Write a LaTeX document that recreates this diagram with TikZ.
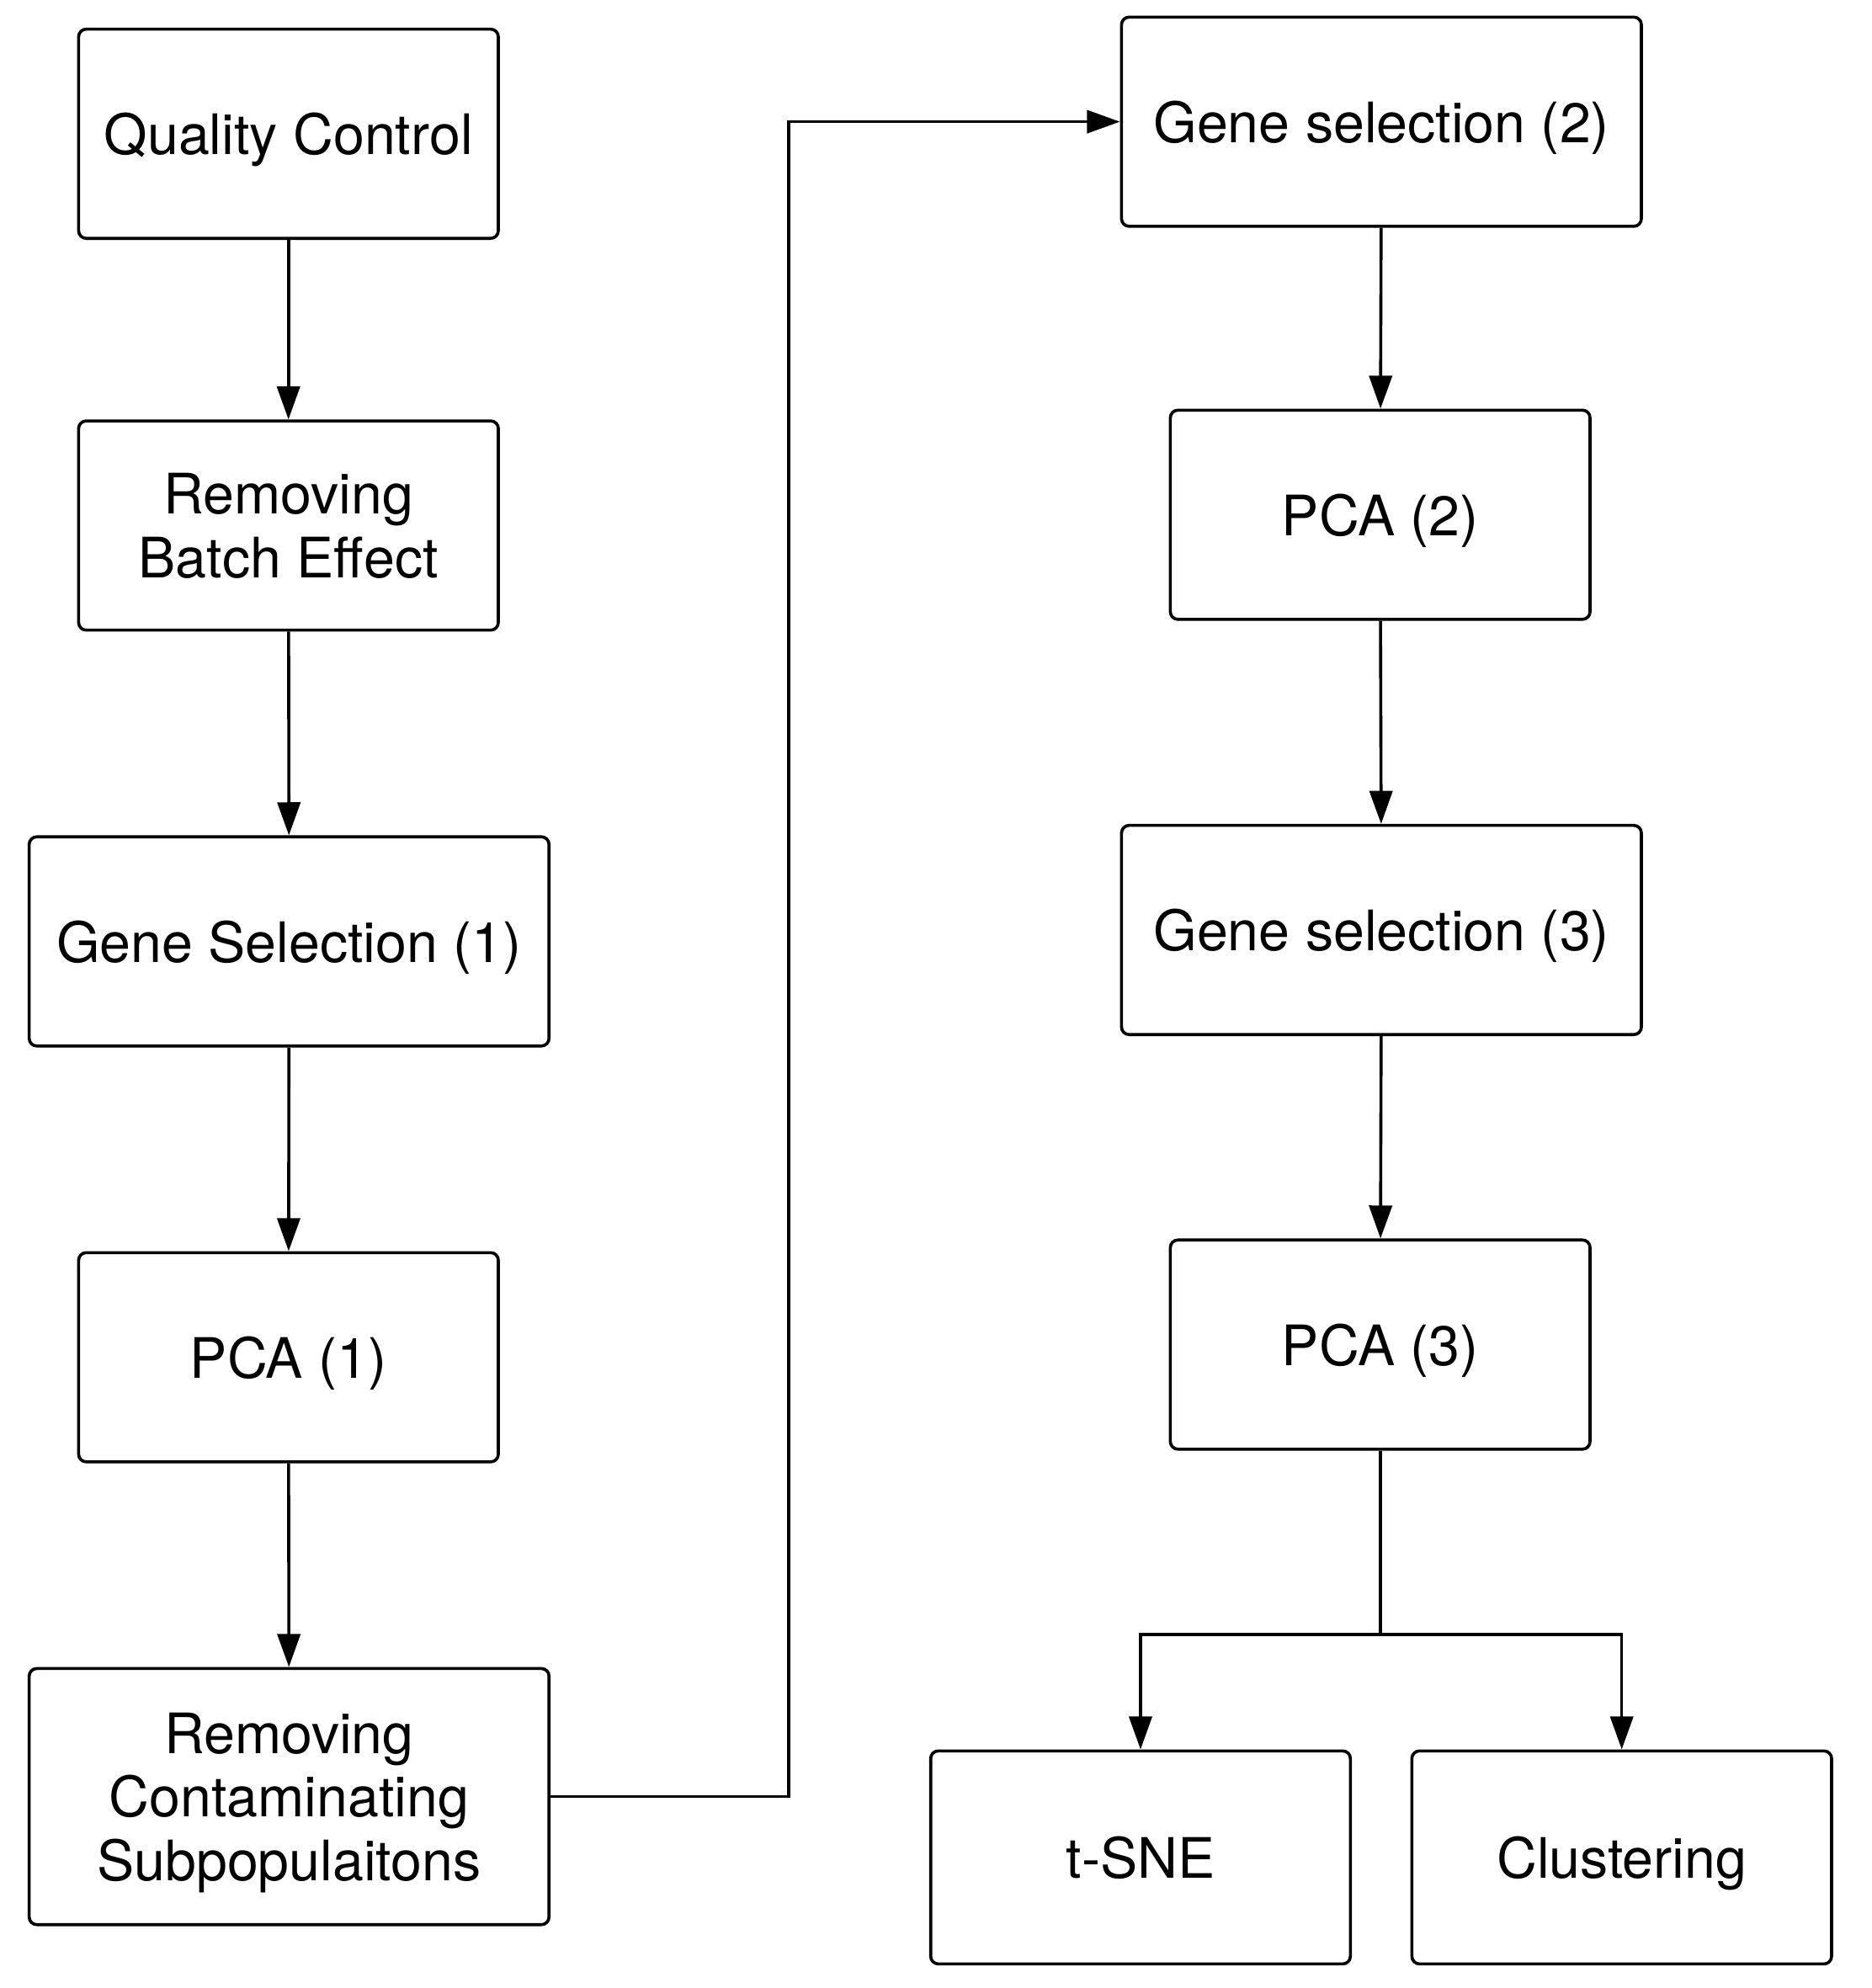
\documentclass[tikz,border=0pt]{standalone}
\usepackage{fontspec}
\setmainfont{TeX Gyre Heros}
\usepackage{tikz}
\usetikzlibrary{positioning, arrows.meta, calc}

\begin{document}
\begin{tikzpicture}[x=0.5pt, y=-0.5pt, every node/.style={font=\fontsize{22}{25}\selectfont},
		stepbox/.style={draw, line width=1.2pt, rounded corners=3pt, align=center, inner sep=0pt, text depth=0pt, minimum height=82.5pt},
		narrowbox/.style={stepbox, minimum width=165.5pt},
		widebox/.style={stepbox, minimum width=205pt},
		arr/.style={line width=1.2pt, -{Triangle[length=13pt, width=9pt]}}]
		\useasboundingbox (0,0) rectangle (1476,1568);
		\node[narrowbox] (qc) at (227.5,105.5) {Quality Control};
		\node[narrowbox] (rbe) at (227.5,414.5) {Removing\\Batch Effect};
		\node[widebox] (gsone) at (228,742.5) {Gene Selection (1)};
		\node[narrowbox] (pcaone) at (227.5,1070.5) {PCA (1)};
		\node[widebox, minimum height=101pt] (rcs) at (228,1417) {Removing\\Contaminating\\Subpopulaitons};
		\node[widebox] (gstwo) at (1089.5,96) {Gene selection (2)};
		\node[narrowbox] (pcatwo) at (1088.5,406) {PCA (2)};
		\node[widebox] (gsthree) at (1089.5,733.5) {Gene selection (3)};
		\node[narrowbox] (pcathree) at (1088.5,1060.5) {PCA (3)};
		\node[narrowbox, minimum height=84pt] (tsne) at (899.5,1465) {t-SNE};
		\node[narrowbox, minimum height=84pt] (clus) at (1279,1465) {Clustering};
		\coordinate (bend) at (622,1417);
		\coordinate (split) at (1088.5,1289);
		\draw[arr] (qc) -- (rbe);
		\draw[arr] (rbe) -- (gsone);
		\draw[arr] (gsone) -- (pcaone);
		\draw[arr] (pcaone) -- (rcs);
		\draw[arr] (rcs.east) -- (bend) |- (gstwo.west);
		\draw[arr] (gstwo) -- (pcatwo);
		\draw[arr] (pcatwo) -- (gsthree);
		\draw[arr] (gsthree) -- (pcathree);
		\draw[line width=1.2pt] (pcathree) -- (split);
		\draw[arr] (split) -| (tsne);
		\draw[arr] (split) -| (clus);
\end{tikzpicture}
\end{document}
